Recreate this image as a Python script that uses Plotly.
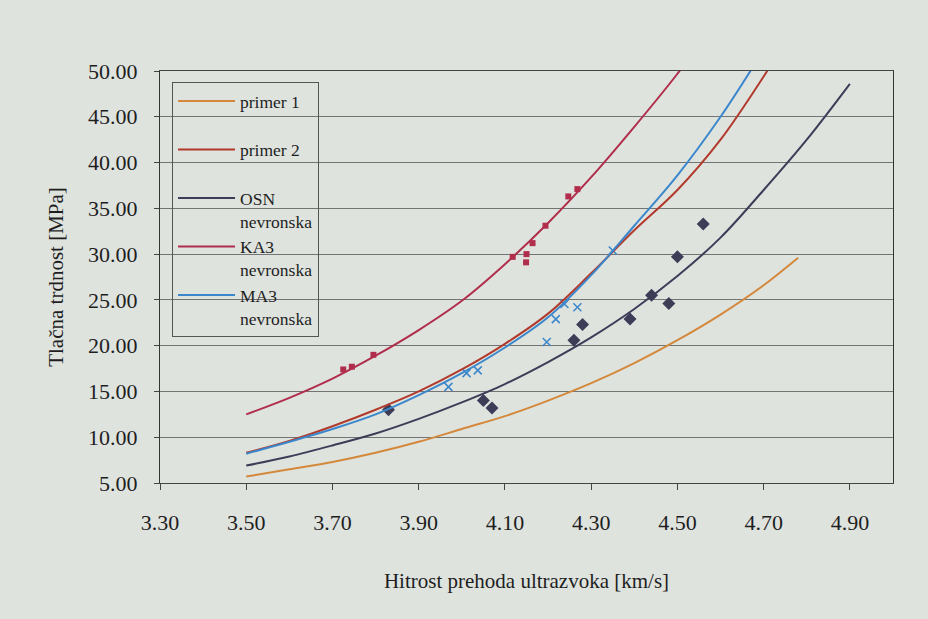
import plotly.graph_objects as go

# ---- data ----
x_tick_vals = [3.30, 3.50, 3.70, 3.90, 4.10, 4.30, 4.50, 4.70, 4.90]
x_tick_text = ["3.30", "3.50", "3.70", "3.90", "4.10", "4.30", "4.50", "4.70", "4.90"]
y_tick_vals = [5, 10, 15, 20, 25, 30, 35, 40, 45, 50]
y_tick_text = ["5.00", "10.00", "15.00", "20.00", "25.00", "30.00", "35.00", "40.00", "45.00", "50.00"]

primer1_x = [3.50, 3.60, 3.70, 3.80, 3.90, 4.00, 4.10, 4.20, 4.30, 4.40, 4.50, 4.60, 4.70, 4.78]
primer1_y = [5.7, 6.5, 7.3, 8.3, 9.5, 10.9, 12.3, 14.0, 15.9, 18.1, 20.6, 23.4, 26.6, 29.6]

primer2_x = [3.50, 3.60, 3.70, 3.80, 3.90, 4.00, 4.10, 4.20, 4.30, 4.40, 4.50, 4.60, 4.70, 4.72]
primer2_y = [8.3, 9.6, 11.2, 13.0, 15.0, 17.4, 20.2, 23.5, 27.9, 32.6, 37.0, 42.5, 49.4, 50.9]

osn_x = [3.50, 3.60, 3.70, 3.80, 3.90, 4.00, 4.10, 4.20, 4.30, 4.40, 4.50, 4.60, 4.70, 4.80, 4.90]
osn_y = [6.9, 7.9, 9.1, 10.4, 12.0, 13.8, 15.8, 18.2, 20.9, 24.0, 27.6, 31.8, 37.0, 42.5, 48.6]

ka3_x = [3.50, 3.60, 3.70, 3.80, 3.90, 4.00, 4.10, 4.20, 4.30, 4.40, 4.50, 4.52]
ka3_y = [12.5, 14.3, 16.4, 18.9, 21.7, 24.9, 28.9, 33.4, 38.4, 43.9, 49.7, 51.0]

ma3_x = [3.50, 3.60, 3.70, 3.80, 3.90, 4.00, 4.10, 4.20, 4.30, 4.40, 4.50, 4.60, 4.68]
ma3_y = [8.2, 9.5, 10.9, 12.5, 14.6, 17.0, 19.8, 23.1, 27.7, 33.1, 38.6, 45.0, 50.8]

osn_pts_x = [3.83, 4.05, 4.07, 4.26, 4.28, 4.39, 4.44, 4.48, 4.50, 4.56]
osn_pts_y = [13.0, 14.0, 13.2, 20.6, 22.3, 22.9, 25.5, 24.6, 29.7, 33.3]

ka3_pts_x = [3.725, 3.745, 3.795, 4.118, 4.149, 4.150, 4.164, 4.194, 4.247, 4.268]
ka3_pts_y = [17.4, 17.7, 19.0, 29.7, 29.1, 30.0, 31.2, 33.1, 36.3, 37.1]

ma3_pts_x = [3.969, 4.011, 4.037, 4.197, 4.218, 4.238, 4.268, 4.350]
ma3_pts_y = [15.5, 17.0, 17.3, 20.4, 22.9, 24.55, 24.2, 30.4]

# ---- styles ----
C_P1 = "#d4883c"
C_P2 = "#b23a2c"
C_OSN = "#3d3d58"
C_KA3 = "#b02e4c"
C_MA3 = "#3b87cc"
BG = "#dfe3de"
FONT = "Liberation Serif"
NBSP = "\u00a0"

fig = go.Figure()

# marker series (not in legend)
fig.add_trace(go.Scatter(x=osn_pts_x, y=osn_pts_y, mode="markers", showlegend=False,
                         marker=dict(symbol="diamond", size=10, color=C_OSN)))
fig.add_trace(go.Scatter(x=ka3_pts_x, y=ka3_pts_y, mode="markers", showlegend=False,
                         marker=dict(symbol="square", size=6, color=C_KA3)))
fig.add_trace(go.Scatter(x=ma3_pts_x, y=ma3_pts_y, mode="markers", showlegend=False,
                         marker=dict(symbol="x-thin", size=8, color=C_MA3,
                                     line=dict(color=C_MA3, width=1.5))))

# fitted curves (legend)
lines = [
    ("primer 1<br>" + NBSP, primer1_x, primer1_y, C_P1),
    ("primer 2<br>" + NBSP, primer2_x, primer2_y, C_P2),
    ("OSN<br>nevronska", osn_x, osn_y, C_OSN),
    ("KA3<br>nevronska", ka3_x, ka3_y, C_KA3),
    ("MA3<br>nevronska", ma3_x, ma3_y, C_MA3),
]
for name, xs, ys, col in lines:
    fig.add_trace(go.Scatter(x=xs, y=ys, mode="lines", name=name,
                             line=dict(color=col, width=2, shape="spline", smoothing=1.0)))

fig.update_layout(
    width=928, height=619,
    margin=dict(l=160, r=35, t=71, b=136),
    paper_bgcolor=BG, plot_bgcolor=BG,
    font=dict(family=FONT, size=22, color="#1e1e1e"),
    showlegend=True,
    legend=dict(
        x=0.0164, y=0.973, xanchor="left", yanchor="top",
        bgcolor="rgba(0,0,0,0)", bordercolor="#555555", borderwidth=1,
        font=dict(family=FONT, size=17.5, color="#1e1e1e"),
        valign="top", itemwidth=57, tracegroupgap=0,
    ),
    xaxis=dict(
        range=[3.3, 5.0], tickvals=x_tick_vals, ticktext=x_tick_text,
        showgrid=False, zeroline=False,
        showline=True, linecolor="#444444", linewidth=1, mirror=True,
        ticks="outside", ticklen=6, tickcolor="#444444",
        ticklabelstandoff=14,
        tickfont=dict(family=FONT, size=22, color="#1e1e1e"),
        title=dict(text="Hitrost prehoda ultrazvoka [km/s]", standoff=38,
                   font=dict(family=FONT, size=21, color="#1e1e1e")),
    ),
    yaxis=dict(
        range=[5, 50], tickvals=y_tick_vals, ticktext=y_tick_text,
        showgrid=True, gridcolor="#747474", gridwidth=1, zeroline=False,
        showline=True, linecolor="#333333", linewidth=1, mirror=True,
        ticks="outside", ticklen=5, tickcolor="#444444",
        ticklabelstandoff=12,
        tickfont=dict(family=FONT, size=22, color="#1e1e1e"),
        title=dict(text="Tlačna trdnost [MPa]", standoff=18,
                   font=dict(family=FONT, size=21, color="#1e1e1e")),
    ),
)

fig.write_html("out.html")
